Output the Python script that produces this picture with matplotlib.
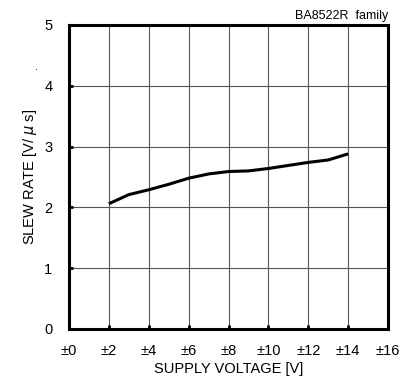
import matplotlib
matplotlib.use("Agg")
import matplotlib.pyplot as plt

plt.rcParams['font.family'] = ['Liberation Sans', 'DejaVu Sans']

# supply voltage (±V) and slew rate (V/us)
supply_v = [2, 3, 4, 5, 6, 7, 8, 9, 10, 11, 12, 13, 14]
slew_rate = [2.06, 2.21, 2.29, 2.38, 2.48, 2.55, 2.59, 2.60, 2.64, 2.69, 2.74, 2.78, 2.88]

xticks = list(range(0, 17, 2))
xlabels = ['±%d' % v for v in xticks]
yticks = [0, 1, 2, 3, 4, 5]

fig = plt.figure(figsize=(4.12, 3.76), dpi=100)
ax = fig.add_axes([69/412, 1 - 329/376, 319/412, 304/376])

ax.plot(supply_v, slew_rate, color='black', lw=2.2, solid_capstyle='butt')

ax.set_xlim(0, 16)
ax.set_ylim(0, 5)
ax.set_xticks(xticks)
ax.set_xticklabels(xlabels)
ax.set_yticks(yticks)
ax.grid(True, color='#555555', lw=0.8)
for s in ax.spines.values():
    s.set_linewidth(2.2)
ax.tick_params(direction='in', length=3, width=2, labelsize=10.5)
ax.tick_params(axis='x', pad=11)
ax.tick_params(axis='y', pad=12)

ax.set_xlabel('SUPPLY VOLTAGE [V]', fontsize=10.5, labelpad=2.5)
ax.set_ylabel('SLEW RATE [V/ $\\mu$ s]', fontsize=10.5, labelpad=4)
ax.text(1.0, 1.01, 'BA8522R  family', transform=ax.transAxes,
        ha='right', va='bottom', fontsize=9)
fig.text(36/412, 1 - 70/376, '.', fontsize=8, ha='center')

fig.savefig('out.png', dpi=100)
